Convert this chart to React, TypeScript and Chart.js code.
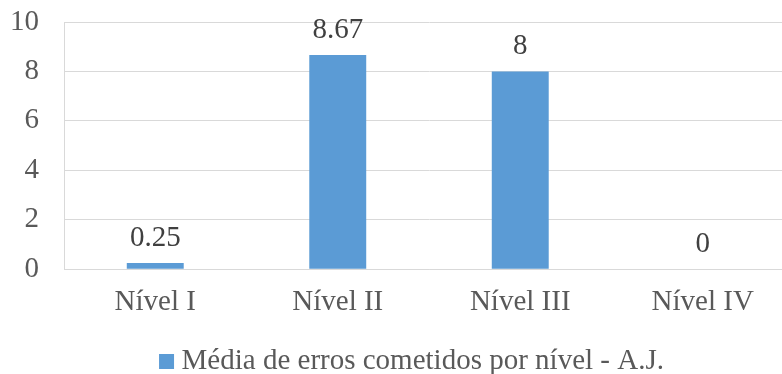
import React, { useEffect, useRef } from "react";
import { Chart, registerables } from "chart.js";

Chart.register(...registerables);

const categories = ["Nível I", "Nível II", "Nível III", "Nível IV"];
const values = [0.25, 8.67, 8, 0];
const valueLabels = ["0.25", "8.67", "8", "0"];
const seriesName = "Média de erros cometidos por nível - A.J.";
const yTicks = [0, 2, 4, 6, 8, 10];

const FONT = "'Liberation Serif', 'Times New Roman', serif";
const AXIS_COLOR = "#595959";
const LABEL_COLOR = "#404040";
const GRID = "#D9D9D9";
const BAR = "#5B9BD5";

const dataLabelPlugin = {
  id: "dataLabels",
  afterDatasetsDraw(chart: any) {
    const ctx = chart.ctx;
    const meta = chart.getDatasetMeta(0);
    ctx.save();
    ctx.font = `29px ${FONT}`;
    ctx.fillStyle = LABEL_COLOR;
    ctx.textAlign = "center";
    ctx.textBaseline = "alphabetic";
    meta.data.forEach((el: any, i: number) => {
      ctx.fillText(valueLabels[i], el.x, el.y - 17);
    });
    ctx.restore();
  },
};

const legendShiftPlugin = {
  id: "legendShift",
  afterLayout(chart: any) {
    const lg = chart.legend;
    if (lg) {
      lg.left += 18;
      lg.right += 18;
      lg.top += 12;
      lg.bottom += 12;
    }
  },
};

export default function App() {
  const ref = useRef<HTMLCanvasElement | null>(null);
  useEffect(() => {
    if (!ref.current) return;
    const chart = new Chart(ref.current, {
      type: "bar",
      data: {
        labels: categories,
        datasets: [
          {
            label: seriesName,
            data: values,
            backgroundColor: BAR,
            borderWidth: 0,
            categoryPercentage: 1,
            barPercentage: 0.312,
            pointStyle: "rect",
          },
        ],
      },
      options: {
        responsive: false,
        animation: false,
        devicePixelRatio: 1,
        layout: { padding: { left: 0, right: 6, top: 22, bottom: 0 } },
        scales: {
          x: {
            grid: { display: false, drawTicks: false },
            border: { display: true, color: GRID, width: 1 },
            afterFit(axis: any) {
              axis.height -= 4;
            },
            ticks: {
              color: AXIS_COLOR,
              font: { family: FONT, size: 29 },
              padding: 16,
              maxRotation: 0,
            },
          },
          y: {
            min: 0,
            max: 10,
            afterBuildTicks(axis: any) {
              axis.ticks = yTicks.map((v) => ({ value: v }));
            },
            afterFit(axis: any) {
              axis.width = 64;
              axis.paddingTop = 0;
              axis.paddingBottom = 0;
            },
            grid: { color: GRID, lineWidth: 1, drawTicks: false },
            border: { display: true, color: GRID, width: 1 },
            ticks: {
              color: AXIS_COLOR,
              font: { family: FONT, size: 29 },
              padding: 25,
            },
          },
        },
        plugins: {
          legend: {
            position: "bottom",
            labels: {
              color: AXIS_COLOR,
              font: { family: FONT, size: 29 },
              usePointStyle: true,
              pointStyle: "rect",
              boxWidth: 1,
              boxHeight: 15,
              padding: 3,
            },
          },
          tooltip: { enabled: false },
        },
      },
      plugins: [dataLabelPlugin, legendShiftPlugin],
    });
    return () => chart.destroy();
  }, []);
  return (
    <div
      style={{
        position: "absolute",
        left: 0,
        top: 0,
        width: 782,
        height: 374,
        overflow: "hidden",
        background: "#fff",
      }}
    >
      <canvas ref={ref} width={800} height={374} style={{ display: "block" }} />
    </div>
  );
}
